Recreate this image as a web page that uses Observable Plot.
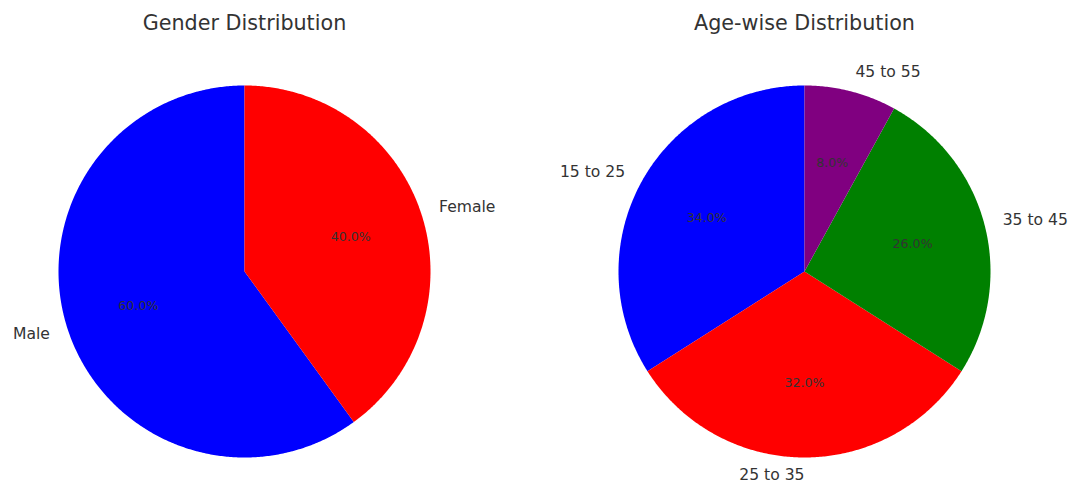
<!DOCTYPE html>
<html><head><meta charset="utf-8">
<script src="https://cdn.jsdelivr.net/npm/d3@7"></script>
<script src="https://cdn.jsdelivr.net/npm/@observablehq/plot@0.6"></script>
<style>body{margin:0;background:#fff}</style>
</head><body><div id="chart"></div>
<script>
const titles = ["Gender Distribution", "Age-wise Distribution"];
const genderLabels = ["Male", "Female"];
const genderValues = [60, 40];
const genderColors = ["blue", "red"];
const ageLabels = ["15 to 25", "25 to 35", "35 to 45", "45 to 55"];
const ageValues = [34, 32, 26, 8];
const ageColors = ["blue", "red", "green", "purple"];

// layout (pixels)
const W = 1069, H = 481, R = 186, CX0 = 244, CY = 271, GAP = 560, TITLE_Y = 22;
const D = GAP / R; // distance between pie centers in radius units

function slices(labels, values, colors, cx, pie) {
  const total = d3.sum(values);
  let a = 90;
  return labels.map((label, i) => {
    const span = 360 * values[i] / total;
    const s = {pie, label, color: colors[i], pct: (100 * values[i] / total).toFixed(1) + "%", a0: a, a1: a + span, cx};
    a += span;
    return s;
  });
}
const all = [
  ...slices(genderLabels, genderValues, genderColors, 0, 0),
  ...slices(ageLabels, ageValues, ageColors, D, 1)
];
// polygon outlines of the wedges (geometry only)
const wedgePts = [];
all.forEach((s, k) => {
  wedgePts.push({k, color: s.color, x: s.cx, y: 0});
  const n = Math.max(2, Math.ceil((s.a1 - s.a0) / 0.5));
  for (let j = 0; j <= n; j++) {
    const t = (s.a0 + (s.a1 - s.a0) * j / n) * Math.PI / 180;
    wedgePts.push({k, color: s.color, x: s.cx + Math.cos(t), y: Math.sin(t)});
  }
  wedgePts.push({k, color: s.color, x: s.cx, y: 0});
});
const labelPts = all.map(s => {
  const t = ((s.a0 + s.a1) / 2) * Math.PI / 180;
  return {label: s.label, pct: s.pct, c: Math.cos(t),
    lx: s.cx + 1.1 * Math.cos(t), ly: 1.1 * Math.sin(t),
    px: s.cx + 0.6 * Math.cos(t), py: 0.6 * Math.sin(t)};
});
const titlePts = titles.map((t, i) => ({t, x: i * D, y: (CY - TITLE_Y) / R}));

const chart = Plot.plot({
  width: W, height: H,
  marginTop: 0, marginBottom: 0, marginLeft: 0, marginRight: 0,
  x: {domain: [-CX0 / R, (W - CX0) / R], axis: null},
  y: {domain: [(CY - H) / R, CY / R], axis: null},
  style: {fontFamily: "DejaVu Sans", background: "white"},
  marks: [
    Plot.line(wedgePts, {x: "x", y: "y", z: "k", fill: "color", stroke: null, curve: "linear"}),
    Plot.text(labelPts.filter(d => d.c > 0), {x: "lx", y: "ly", text: "label", textAnchor: "start", fontSize: 15.6, dy: -1, fill: "#333"}),
    Plot.text(labelPts.filter(d => d.c <= 0), {x: "lx", y: "ly", text: "label", textAnchor: "end", fontSize: 15.6, dy: -1, fill: "#333"}),
    Plot.text(labelPts, {x: "px", y: "py", text: "pct", fontSize: 12.6, fill: "#333"}),
    Plot.text(titlePts, {x: "x", y: "y", text: "t", fontSize: 20.7, dy: 1, fill: "#333"})
  ]
});
document.getElementById("chart").appendChild(chart);
</script>
</body></html>
